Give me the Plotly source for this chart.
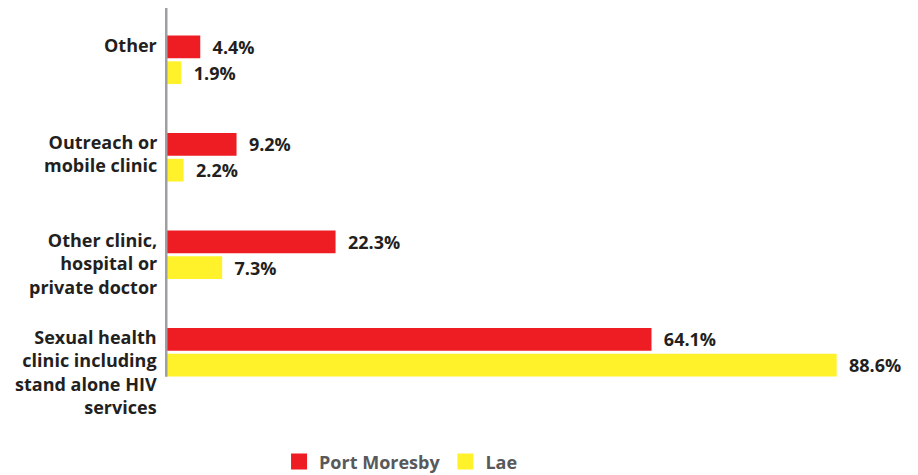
import plotly.graph_objects as go

# Categories, bottom to top
categories = [
    "Sexual health clinic including stand alone HIV services",
    "Other clinic, hospital or private doctor",
    "Outreach or mobile clinic",
    "Other",
]
category_labels = [
    "Sexual health<br>clinic including<br>stand alone HIV<br>services",
    "Other clinic,<br>hospital or<br>private doctor",
    "Outreach or<br>mobile clinic",
    "Other",
]
port_moresby = [64.1, 22.3, 9.2, 4.4]
lae = [88.6, 7.3, 2.2, 1.9]

red = "#EE1D24"
yellow = "#FFF22A"
dark = "#231F20"
font_family = "Open Sans"

fig = go.Figure()

# Lae first so it sits below Port Moresby within each group
for name, vals, col in [("Lae", lae, yellow), ("Port Moresby", port_moresby, red)]:
    fig.add_trace(go.Bar(
        y=categories,
        x=vals,
        orientation="h",
        name=name,
        marker=dict(color=col, line=dict(width=0)),
        texttemplate="\u00a0\u00a0%{x:.1f}%",
        textposition="outside",
        textfont=dict(family=font_family, size=18, color=dark, weight=700),
        cliponaxis=False,
        constraintext="none",
        showlegend=False,
    ))

# Legend entries
for name, col in [("Port Moresby", red), ("Lae", yellow)]:
    fig.add_trace(go.Scatter(
        x=[None], y=[None], mode="markers", name=name,
        marker=dict(symbol="square", size=16, color=col),
    ))

# Category labels, top-aligned with the first bar of each group
for cat, lab in zip(categories, category_labels):
    fig.add_annotation(
        x=0, xref="paper", y=cat, yref="y",
        text=lab, showarrow=False,
        xanchor="right", yanchor="top", align="right",
        xshift=-8, yshift=29,
        font=dict(family=font_family, size=18, color=dark, weight=700),
    )

# Vertical axis line
fig.add_shape(
    type="line", xref="paper", yref="paper",
    x0=-0.001, x1=-0.001, y0=0.062, y1=1.008,
    line=dict(color="#9D9FA2", width=2.5),
)

fig.update_layout(
    width=910, height=467,
    margin=dict(l=159, r=8, t=3, b=74, autoexpand=False),
    paper_bgcolor="white", plot_bgcolor="white",
    barmode="group", bargap=0.47, bargroupgap=0.12,
    xaxis=dict(range=[0, 98.3], visible=False),
    yaxis=dict(categoryorder="array", categoryarray=categories,
               showticklabels=False, showgrid=False, zeroline=False,
               range=[-0.5, 3.5]),
    legend=dict(orientation="h", x=0.315, xanchor="center", y=-0.156, yanchor="middle",
                font=dict(family=font_family, size=18, color="#58595B", weight=700),
                itemsizing="trace"),
)

fig.write_html("out.html")
